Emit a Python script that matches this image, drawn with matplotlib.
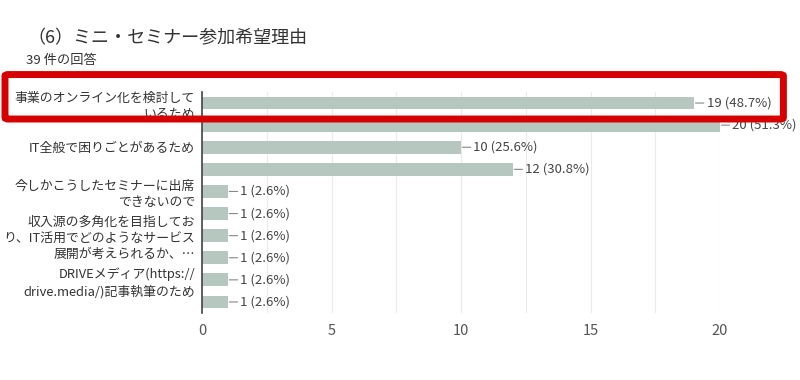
import matplotlib.pyplot as plt
from matplotlib.patches import FancyBboxPatch
from matplotlib.ticker import MultipleLocator

plt.rcParams['font.family'] = ['Noto Sans CJK JP', 'DejaVu Sans']

title = "（6）ミニ・セミナー参加希望理由"
subtitle = "39 件の回答"
labels = [
    "事業のオンライン化を検討して\nいるため", "",
    "IT全般で困りごとがあるため", "",
    "今しかこうしたセミナーに出席\nできないので", "",
    "収入源の多角化を目指してお\nり、IT活用でどのようなサービス\n展開が考えられるか、…", "",
    "DRIVEメディア(https://\ndrive.media/)記事執筆のため", "",
]
counts = [19, 20, 10, 12, 1, 1, 1, 1, 1, 1]
total = 39

bar_color = "#b6c7c0"

fig = plt.figure(figsize=(8, 3.8), dpi=100)
ax = fig.add_axes([0.2525, 0.1763, 0.6475, 0.5816])

pos = list(range(len(counts)))
ax.barh(pos, counts, height=0.58, color=bar_color, zorder=2)

for i, v in enumerate(counts):
    ax.annotate(f"{v} ({v / total * 100:.1f}%)", xy=(v, i), xytext=(9, 0),
                textcoords="offset points", ha="left", va="center",
                fontsize=9.5, color="#444444", annotation_clip=False,
                arrowprops=dict(arrowstyle="-", color="#888888", lw=0.8,
                                shrinkA=0, shrinkB=1))

ax.set_xlim(0, 20)
ax.set_ylim(9.5, -0.5)
ax.set_yticks(pos)
ax.set_yticklabels(labels, fontsize=9.3, color="#333333", linespacing=1.3)
ax.xaxis.set_major_locator(MultipleLocator(5))
ax.xaxis.set_minor_locator(MultipleLocator(2.5))
ax.tick_params(axis="y", length=0, pad=5)
ax.tick_params(axis="x", which="both", length=0, pad=8, labelsize=10.5, labelcolor="#555555")
ax.grid(axis="x", which="both", color="#ebebeb", lw=0.8, zorder=0)
for s in ["top", "right", "bottom"]:
    ax.spines[s].set_visible(False)
ax.spines["left"].set_color("#444444")
ax.spines["left"].set_linewidth(1.2)
ax.spines["left"].set_zorder(3)

fig.text(0.034, 0.90, title, fontsize=13, color="#333333", va="center")
fig.text(0.033, 0.842, subtitle, fontsize=9.5, color="#333333", va="center")

# red highlight frame
frame = FancyBboxPatch((0.00625, 0.6868), 0.973, 0.117, boxstyle="round,pad=0,rounding_size=0.004",
                       transform=fig.transFigure, fill=False, edgecolor="#d60000", lw=5.0, zorder=10)
fig.add_artist(frame)

fig.savefig("out.png", dpi=100)
